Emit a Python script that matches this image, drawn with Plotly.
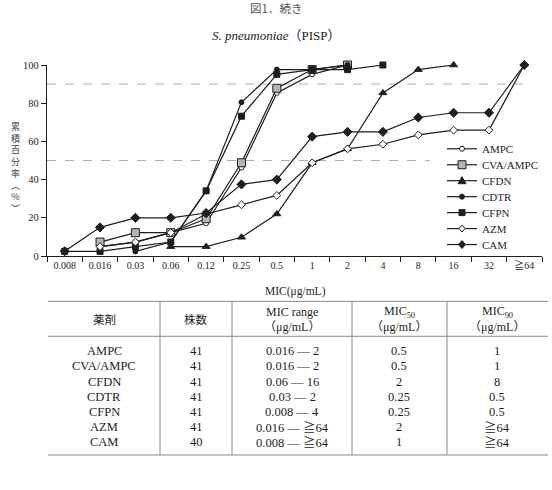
import plotly.graph_objects as go

# ---------------- data ----------------
categories = ["0.008", "0.016", "0.03", "0.06", "0.12", "0.25", "0.5",
              "1", "2", "4", "8", "16", "32", "≧64"]

N = None
ampc     = [N, 4.9, 7.3, 12.2, 17.1, 46.3, 85.4, 95.1, 100, N, N, N, N, N]
cva_ampc = [N, 7.3, 12.2, 12.2, 19.5, 48.8, 87.8, 97.6, 100, N, N, N, N, N]
cfdn     = [N, N, N, 4.9, 4.9, 9.8, 22.0, 48.8, 56.1, 85.4, 97.6, 100, N, N]
cdtr     = [N, N, 2.4, 7.3, 34.1, 80.5, 97.6, 97.6, 100, N, N, N, N, N]
cfpn     = [2.4, 2.4, 4.9, 7.3, 34.1, 73.2, 95.1, 97.6, 97.6, 100, N, N, N, N]
azm      = [N, 4.9, 7.3, 12.2, 22.0, 26.8, 31.7, 48.8, 56.1, 58.5, 63.4, 65.9, 65.9, 100]
cam      = [2.5, 15.0, 20.0, 20.0, 22.5, 37.5, 40.0, 62.5, 65.0, 65.0, 72.5, 75.0, 75.0, 100]

series_names = ["AMPC", "CVA/AMPC", "CFDN", "CDTR", "CFPN", "AZM", "CAM"]
series_values = [ampc, cva_ampc, cfdn, cdtr, cfpn, azm, cam]

y_ticks = [0, 20, 40, 60, 80, 100]
ref_levels = [90, 50]

# table
tbl_drugs = ["AMPC", "CVA/AMPC", "CFDN", "CDTR", "CFPN", "AZM", "CAM"]
tbl_n = ["41", "41", "41", "41", "41", "41", "40"]
tbl_range = ["0.016 — 2", "0.016 — 2", "0.06 — 16", "0.03 — 2",
             "0.008 — 4", "0.016 — ≧64", "0.008 — ≧64"]
tbl_mic50 = ["0.5", "0.5", "2", "0.25", "0.25", "2", "1"]
tbl_mic90 = ["1", "1", "8", "0.5", "0.5", "≧64", "≧64"]

# ---------------- styling ----------------
W, H = 552, 490
L, R, T, B = 47, 10, 65, 233.5
PW = W - L - R
PH = H - T - B
INK = "#1e1e1e"
SERIF = "Liberation Serif, Times New Roman, Noto Sans CJK JP, serif"
CJK = "Noto Sans CJK JP, Liberation Serif, serif"


def px2x(px):
    return (px - L) / PW


def py2y(py):
    return (H - B - py) / PH


def ann(text, px, py, font, xanchor="center", **kw):
    return dict(text=text, xref="paper", yref="paper", x=px2x(px), y=py2y(py),
                xanchor=xanchor, yanchor="middle", showarrow=False, font=font, **kw)


styles = {
    "AMPC":     dict(symbol="circle", size=5, color="white"),
    "CVA/AMPC": dict(symbol="square", size=8, color="#b5b5b5"),
    "CFDN":     dict(symbol="triangle-up", size=7, color=INK),
    "CDTR":     dict(symbol="circle", size=5, color=INK),
    "CFPN":     dict(symbol="square", size=6, color=INK),
    "AZM":      dict(symbol="diamond", size=6, color="white"),
    "CAM":      dict(symbol="diamond", size=7, color=INK),
}

fig = go.Figure()
for name, vals in zip(series_names, series_values):
    st = styles[name]
    fig.add_trace(go.Scatter(
        x=categories, y=vals, name=name, mode="lines+markers",
        line=dict(color=INK, width=1.2),
        marker=dict(symbol=st["symbol"], size=st["size"], color=st["color"],
                    line=dict(color=INK, width=1)),
        cliponaxis=False, showlegend=False,
    ))

shapes = []
# reference dashed lines
for lvl, xend in zip(ref_levels, [523, 430]):
    shapes.append(dict(type="line", xref="paper", yref="y", x0=0, x1=px2x(xend),
                       y0=lvl, y1=lvl, line=dict(color="#b0b0b0", width=1, dash="dash"),
                       layer="below"))

annotations = []
# titles
annotations.append(ann("図1．続き", 276, 8, dict(family=CJK, size=11.5, color="#555")))
annotations.append(ann("<i>S. pneumoniae</i>（PISP）", 276, 35,
                       dict(family=SERIF, size=13, color=INK)))
# x axis title
annotations.append(ann("MIC(μg/mL)", 295, 292, dict(family=SERIF, size=11.5, color=INK)))
# vertical y axis title (stacked characters)
ytitle_chars = ["累", "積", "百", "分", "率", "︵", "%", "︶"]
annotations.append(ann("<br>".join(ytitle_chars), 15, 168,
                       dict(family=CJK, size=9, color="#444")))

# custom legend
leg_rows = [149, 165, 181, 197, 213, 229, 245]
for name, yc in zip(series_names, leg_rows):
    st = styles[name]
    shapes.append(dict(type="line", xref="paper", yref="paper", x0=px2x(447), x1=px2x(477),
                       y0=py2y(yc), y1=py2y(yc), line=dict(color=INK, width=1.2)))
    common = dict(xref="paper", yref="paper", xsizemode="pixel", ysizemode="pixel",
                  xanchor=px2x(462), yanchor=py2y(yc),
                  line=dict(color=INK, width=1), fillcolor=st["color"])
    s = st["size"] / 2
    if st["symbol"] == "circle":
        shapes.append(dict(type="circle", x0=-s, x1=s, y0=-s, y1=s, **common))
    elif st["symbol"] == "square":
        shapes.append(dict(type="rect", x0=-s, x1=s, y0=-s, y1=s, **common))
    elif st["symbol"] == "triangle-up":
        shapes.append(dict(type="path", path="M -4,-3 L 4,-3 L 0,4 Z", **common))
    elif st["symbol"] == "diamond":
        shapes.append(dict(type="path", path=f"M 0,{s+0.5} L {s},0 L 0,{-s-0.5} L {-s},0 Z", **common))
    annotations.append(ann(name, 480, yc, dict(family=SERIF, size=11, color=INK), xanchor="left"))

# ---------------- table ----------------
TL, TR = 48, 548
T_TOP, T_HEAD, T_BOT = 302, 337, 456
col_bounds = [160, 232, 352, 447]
col_centers = [104, 196, 292, 399, 497]
TBL_LINE = "#8a8a8a"
for yy in [T_TOP, T_HEAD, T_BOT]:
    shapes.append(dict(type="line", xref="paper", yref="paper", x0=px2x(TL), x1=px2x(TR),
                       y0=py2y(yy), y1=py2y(yy), line=dict(color=TBL_LINE, width=1)))
for xx in col_bounds:
    shapes.append(dict(type="line", xref="paper", yref="paper", x0=px2x(xx), x1=px2x(xx),
                       y0=py2y(T_TOP), y1=py2y(T_BOT), line=dict(color=TBL_LINE, width=1)))

TFONT = dict(family=SERIF, size=12.5, color=INK)
TFONT_CJK = dict(family=CJK, size=11.5, color=INK)
headers = [["薬剤"], ["株数"], ["MIC range", "（μg/mL）"],
           ["MIC<sub>50</sub>", "（μg/mL）"], ["MIC<sub>90</sub>", "（μg/mL）"]]
for cx, lines in zip(col_centers, headers):
    if len(lines) == 1:
        annotations.append(ann(lines[0], cx, 320, TFONT_CJK))
    else:
        for ln, yy in zip(lines, [313, 328]):
            annotations.append(ann(ln, cx, yy, dict(family=SERIF, size=12, color=INK)))

columns = [tbl_drugs, tbl_n, tbl_range, tbl_mic50, tbl_mic90]
for cx, col in zip(col_centers, columns):
    for i, val in enumerate(col):
        annotations.append(ann(val, cx, 352 + i * 15.2, TFONT))

fig.update_layout(
    width=W, height=H,
    margin=dict(l=L, r=R, t=T, b=B, pad=0),
    paper_bgcolor="white", plot_bgcolor="white",
    showlegend=False,
    shapes=shapes, annotations=annotations,
    font=dict(family=SERIF, color=INK),
    xaxis=dict(type="category", categoryorder="array", categoryarray=categories,
               range=[-0.5, len(categories) - 0.5], tickson="boundaries",
               ticks="outside", ticklen=5, tickcolor=INK, showline=True, linecolor=INK,
               linewidth=1.2, showgrid=False, zeroline=False,
               tickfont=dict(family=SERIF, size=10, color=INK)),
    yaxis=dict(range=[0, 100], tickvals=y_ticks, ticks="outside", ticklen=5,
               tickcolor=INK, showline=True, linecolor=INK, linewidth=1.2,
               showgrid=False, zeroline=False,
               tickfont=dict(family=SERIF, size=10.5, color=INK)),
)

fig.write_html("out.html")
